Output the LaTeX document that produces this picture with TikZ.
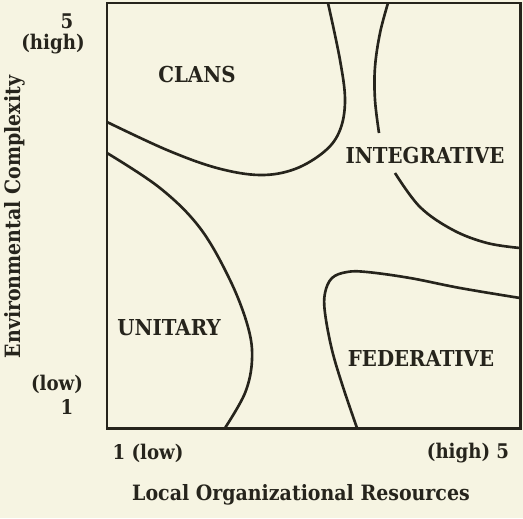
\documentclass[tikz,border=0pt]{standalone}
\usepackage{fontspec}
\setmainfont{DejaVu Serif Condensed}
\usetikzlibrary{positioning}
\definecolor{paper}{RGB}{246,244,226}
\definecolor{ink}{RGB}{38,36,28}
\tikzset{
  frame/.style={draw=ink,line width=1.7pt},
  boundary/.style={draw=ink,line width=1.5pt,smooth,tension=0.6},
  region/.style={font=\fontsize{12.5}{14}\selectfont\bfseries,text=ink,inner sep=0pt},
  ticklabel/.style={font=\fontsize{11.5}{13}\selectfont\bfseries,text=ink,align=center,inner sep=0pt},
  axislabel/.style={font=\fontsize{12}{13}\selectfont\bfseries,text=ink,inner sep=0pt}
}

\begin{document}
\begin{tikzpicture}[x=0.02cm,y=-0.02cm]
  \fill[paper] (0,0) rectangle (523,518);
  \useasboundingbox (0,0) rectangle (523,518);

  % plot area
  \draw[frame] (107,3) rectangle (520,428);

  % region boundaries
  \draw[boundary] plot coordinates {(107,122) (167,150) (217,168) (260,175) (295,169)
    (325,151) (340,130) (345,100) (340,60) (328,3)};
  \draw[boundary] plot coordinates {(388,3) (380,33) (375,67) (375,100) (379,133)};
  \draw[boundary] plot coordinates {(395,173) (420,207) (453,230) (487,243) (520,248)};
  \draw[boundary] plot coordinates {(107,153) (160,188) (200,228) (230,280)
    (248,327) (252,360) (245,393) (225,428)};
  \draw[boundary] plot coordinates {(357,428) (343,387) (332,350) (325,313) (325,293)
    (332,278) (347,272) (367,272) (410,278) (460,288) (520,298)};

  % regions
  \node[region] (clans) at (197,74) {CLANS};
  \node[region] (integrative) at (425,155) {INTEGRATIVE};
  \node[region] (unitary) at (169,328) {UNITARY};
  \node[region] (federative) at (421,358) {FEDERATIVE};

  % axes
  \node[ticklabel] (yhigh) at (67,21) {5};
  \node[ticklabel,below=3pt of yhigh.south,anchor=north,xshift=-14*0.02cm] (yhightxt) {(high)};
  \node[ticklabel] (ylowtxt) at (57,384) {(low)};
  \node[ticklabel,below=3pt of ylowtxt.south,anchor=north,xshift=10*0.02cm] (ylow) {1};
  \node[ticklabel] (xlow) at (148,453) {1 (low)};
  \node[ticklabel] (xhigh) at (468,453) {(high) 5};
  \node[axislabel] (xlabel) at (301,495) {Local Organizational Resources};
  \node[axislabel,rotate=90] (ylabel) at (15,217) {Environmental Complexity};
\end{tikzpicture}
\end{document}
